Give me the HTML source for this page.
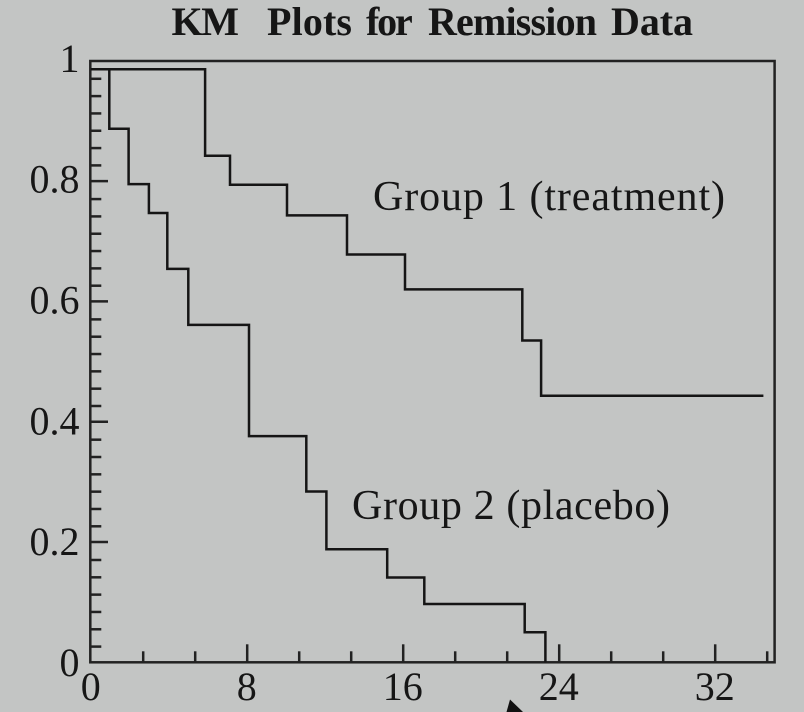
<!DOCTYPE html>
<html lang="en">
<head>
<meta charset="utf-8">
<title>KM Plots for Remission Data</title>
<style>
html,body{margin:0;padding:0;background:#c3c5c4;}
svg{display:block;}
text{font-family:"Liberation Serif",serif;fill:#161616;}
</style>
</head>
<body>
<svg id="chart" xmlns="http://www.w3.org/2000/svg" width="804" height="712" viewBox="0 0 804 712">
  <rect x="0" y="0" width="804" height="712" fill="#c3c5c4"/>
  <text y="35" font-size="40" font-weight="700"><tspan x="171.5" textLength="67.5">KM</tspan> <tspan x="267" textLength="85">Plots</tspan> <tspan x="366" textLength="46">for</tspan> <tspan x="428" textLength="169">Remission</tspan> <tspan x="611" textLength="82">Data</tspan></text>
  <rect x="90.3" y="61" width="684.3" height="601.3" fill="none" stroke="#222" stroke-width="2.5"/>
  <g id="ticks"></g>
  <g id="labels"></g>
  <g id="series"></g>
  <text x="373" y="210" font-size="42" textLength="352">Group 1 (treatment)</text>
  <text x="352" y="519" font-size="42" textLength="318">Group 2 (placebo)</text>
  <polygon points="510,699.5 523,712 506.5,712" fill="#111"/>
</svg>
<script>
var xTickValues = [0, 8, 16, 24, 32];
var xTickLabels = ["0", "8", "16", "24", "32"];
var yTickValues = [0, 0.2, 0.4, 0.6, 0.8, 1];
var yTickLabels = ["0", "0.2", "0.4", "0.6", "0.8", "1"];

var group1Times = [0, 5.84, 7.12, 10.04, 13.12, 16.09, 22.11, 23.07, 34.47];
var group1Survival = [0.986, 0.842, 0.794, 0.743, 0.678, 0.620, 0.535, 0.443, 0.443];
var group2Times = [0, 0.93, 1.92, 2.96, 3.90, 4.98, 8.09, 11.03, 12.06, 15.18, 17.08, 22.23, 23.29];
var group2Survival = [0.986, 0.887, 0.795, 0.747, 0.654, 0.561, 0.376, 0.284, 0.188, 0.141, 0.097, 0.050, 0];

var NS = "http://www.w3.org/2000/svg";
function x(v) { return 91.2 + 19.5 * v; }
function y(v) { return 662.3 - 601.5 * v; }

var ticksGroup = document.getElementById("ticks");
var labelsGroup = document.getElementById("labels");
var seriesGroup = document.getElementById("series");

function drawTick(x1, y1, x2, y2, name) {
  var t = document.createElementNS(NS, "line");
  t.setAttribute("x1", x1);
  t.setAttribute("y1", y1);
  t.setAttribute("x2", x2);
  t.setAttribute("y2", y2);
  t.setAttribute("stroke", "#222");
  t.setAttribute("stroke-width", "2.5");
  
  
  ticksGroup.appendChild(t);
}

var xStep = 8 / 3;
for (var i = 1; i * xStep < 35; i++) {
  var xv = i * xStep;
  var isMajor = i % 3 === 0;
  drawTick(x(xv), 662.3, x(xv), 662.3 - (isMajor ? 18 : 11), isMajor ? "x-major-tick" : "x-minor-tick");
}

var yMinorStep = 0.0288;
yTickValues.forEach(function (v) {
  if (v > 0 && v < 1) {
    drawTick(90.3, y(v), 90.3 + 17.7, y(v), "y-major-tick");
  }
  if (v > 0) {
    for (var k = 1; k <= 6; k++) {
      var mv = v - (0.0011 + k * yMinorStep);
      drawTick(90.3, y(mv), 90.3 + 11, y(mv), "y-minor-tick");
    }
  }
});

xTickValues.forEach(function (v, idx) {
  var t = document.createElementNS(NS, "text");
  t.setAttribute("x", x(v) - 0.5);
  t.setAttribute("y", 700);
  t.setAttribute("font-size", "40");
  t.setAttribute("text-anchor", "middle");
  
  
  t.textContent = xTickLabels[idx];
  labelsGroup.appendChild(t);
});

yTickValues.forEach(function (v, idx) {
  var t = document.createElementNS(NS, "text");
  t.setAttribute("x", 79.5);
  t.setAttribute("y", y(v) + 11 + (1 - v) * 2.7);
  t.setAttribute("font-size", "40");
  t.setAttribute("text-anchor", "end");
  
  
  t.textContent = yTickLabels[idx];
  labelsGroup.appendChild(t);
});

function stepPoints(times, values) {
  var pts = [];
  times.forEach(function (tv, i) {
    if (i > 0) {
      pts.push(x(tv).toFixed(1) + "," + y(values[i - 1]).toFixed(1));
    }
    pts.push(x(tv).toFixed(1) + "," + y(values[i]).toFixed(1));
  });
  return pts;
}

var curve2 = document.createElementNS(NS, "polyline");
curve2.setAttribute("points", stepPoints(group2Times, group2Survival).join(" "));
curve2.setAttribute("fill", "none");
curve2.setAttribute("stroke", "#151515");
curve2.setAttribute("stroke-width", "2.5");


seriesGroup.appendChild(curve2);

var curve1 = document.createElementNS(NS, "polyline");
curve1.setAttribute("points", stepPoints(group1Times, group1Survival).join(" "));
curve1.setAttribute("fill", "none");
curve1.setAttribute("stroke", "#151515");
curve1.setAttribute("stroke-width", "2.5");


seriesGroup.appendChild(curve1);
</script>
</body>
</html>
